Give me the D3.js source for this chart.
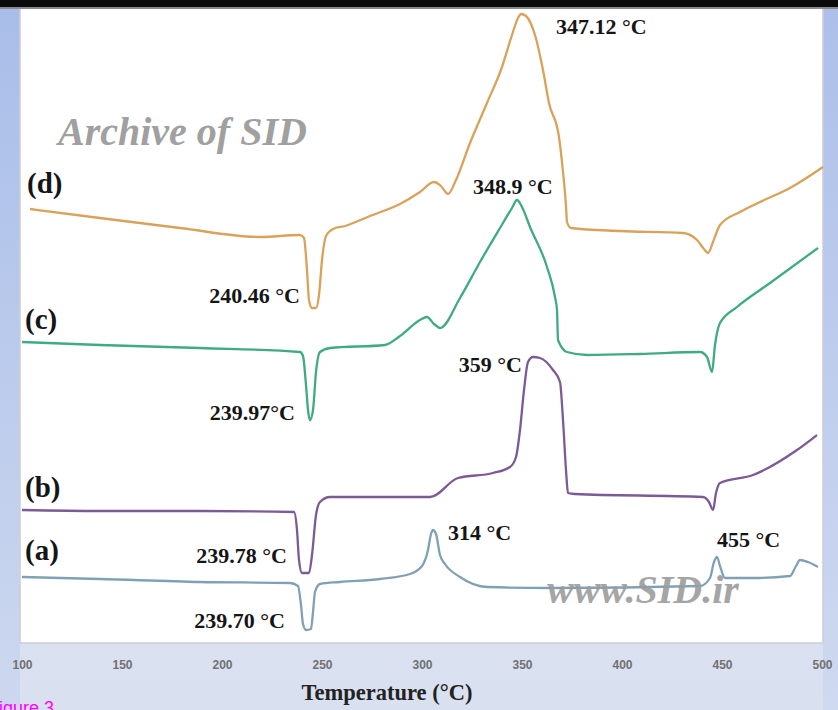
<!DOCTYPE html>
<html>
<head>
<meta charset="utf-8">
<script src="https://cdn.jsdelivr.net/npm/d3@7"></script>
<style>
html,body{margin:0;padding:0;background:#dfe5f2;overflow:hidden;}
svg{display:block;}
</style>
</head>
<body>
<svg id="chart" width="838" height="710"></svg>
<script>
// ---- Data (temperature °C, heat-flow in arbitrary units) ----
const xTicks = [100, 150, 200, 250, 300, 350, 400, 450, 500];
const xLabel = "Temperature (°C)";

const tempD = [104,139,179,219,239,241,242.5,243.5,245,247,248.5,250,252,255.5,261.5,274,289,299,306,309.5,313,317,324,332.5,340,345,348,349.5,352,356.5,360.5,363.5,368.5,370.5,372,372.5,374.5,399,430.5,437.5,441,443,445.5,449,459,469,484,500.5];
const flowD = [434,425,415,406,408,405,373,343,335,335,348,383,407,414,417,427,439,451,461,457,449,463,500,540,576,608,625,629,627,608,573,540,506,471,437,421,415,412,410,403,394,390,401,418,431,441,455,476];

const tempC = [100,139,189,239,240.5,242,243,244,245.5,247,249,254,281.5,289,299,302.5,306,309,319,329,339,345,347.5,350,354,362.5,366.5,367.5,368,372.5,382.5,409,439,442.5,445,446.5,449,457.5,474,498];
const flowC = [301,298,295,291,287,258,233,223,233,271,291,295,298,307,323,326,319,315,345,381,415,435,443,436,416,376,346,333,303,291,288,289,291,286,271,298,320,336,360,395];

const tempB = [100,139,189,236,237.5,238.5,240,243.5,245,247,249,254,279,304,318,335.5,344,347,349,351,353,355.5,359,365.5,369,370.5,372,373,376.5,440.5,443.5,445.5,447,449,465.5,487.5,497.5];
const flowB = [133,132,132,131,113,83,70,70,88,128,141,146,146,146,165,170,176,186,213,253,281,286,285,273,261,223,173,150,149,146,141,133,150,160,168,193,208];

const tempA = [100,139,189,234,238,239.5,240.5,242,244.5,245.5,246.5,249,259,279,294,300,303,304.5,305.5,307,309,311.5,319,332.5,364,439,444,446,447.5,449,451.5,465.5,484,487,489,493,498];
const flowA = [66,64,61,60,57,38,19,13,14,31,51,59,61,64,69,77,93,109,113,109,88,79,66,56,55,57,65,81,86,77,65,65,67,77,83,81,76];

const seriesNames = ["(d)", "(c)", "(b)", "(a)"];
const seriesColors = ["#d9a25a", "#3fab82", "#7c5a95", "#80a1b5"];

// series letter anchors (temperature, flow)
const letterTemp = [102.5, 101.5, 101.5, 101.5];
const letterFlow = [450, 314, 146, 83];

// peak annotations
const annText   = ["347.12 °C", "348.9 °C", "240.46 °C", "239.97°C", "359 °C", "239.78 °C", "239.70 °C", "314 °C", "455 °C"];
const annTemp   = [367, 325.5, 239, 236.5, 350, 232.5, 231.5, 313, 447.5];
const annFlow   = [609, 449, 340, 223, 271, 80, 15, 103, 96];
const annAnchor = ["start", "start", "end", "end", "end", "end", "end", "start", "start"];

// ---- Drawing ----
const svg = d3.select("#chart");
const W = 838, H = 710;
const plot = {left: 20, right: 823, top: 8, bottom: 643};

const defs = svg.append("defs");
const gL = defs.append("linearGradient").attr("id", "leftBand").attr("x1", 0).attr("y1", 0).attr("x2", 0).attr("y2", 1);
gL.append("stop").attr("offset", "0%").attr("stop-color", "#a8bde9");
gL.append("stop").attr("offset", "100%").attr("stop-color", "#cdd8ef");
const gR = defs.append("linearGradient").attr("id", "rightBand").attr("x1", 0).attr("y1", 0).attr("x2", 0).attr("y2", 1);
gR.append("stop").attr("offset", "0%").attr("stop-color", "#adbfe9");
gR.append("stop").attr("offset", "100%").attr("stop-color", "#cfd9f0");
const gB = defs.append("linearGradient").attr("id", "bottomBand").attr("x1", 0).attr("y1", 0).attr("x2", 0).attr("y2", 1);
gB.append("stop").attr("offset", "0%").attr("stop-color", "#e3e8f3");
gB.append("stop").attr("offset", "100%").attr("stop-color", "#d9e0f0");

svg.append("rect").attr("x", 0).attr("y", 0).attr("width", W).attr("height", H).attr("fill", "url(#bottomBand)");
svg.append("rect").attr("x", 0).attr("y", 0).attr("width", plot.left).attr("height", H).attr("fill", "url(#leftBand)");
svg.append("rect").attr("x", plot.right).attr("y", 0).attr("width", W - plot.right).attr("height", H).attr("fill", "url(#rightBand)");
svg.append("rect").attr("x", plot.left).attr("y", plot.top).attr("width", plot.right - plot.left).attr("height", plot.bottom - plot.top)
  .attr("fill", "#ffffff").attr("stroke", "#c9cdd6").attr("stroke-width", 1.5);
svg.append("rect").attr("x", 0).attr("y", 0).attr("width", W).attr("height", 7).attr("fill", "#0a0a0a");
svg.append("rect").attr("x", 0).attr("y", 7).attr("width", W).attr("height", 2).attr("fill", "#8a8a8a");

const x = d3.scaleLinear().domain([100, 500]).range([22, 822]);
const y = d3.scaleLinear().domain([0, 635]).range([643, 8]);

// watermarks
svg.append("text").attr("x", 58).attr("y", 145).text("Archive of SID")
  .attr("font-family", "Liberation Serif, Times New Roman, serif").attr("font-style", "italic").attr("font-weight", "bold")
  .attr("font-size", 40).attr("fill", "#a0a0a0");

const line = d3.line().x(d => x(d[0])).y(d => y(d[1])).curve(d3.curveMonotoneX);
const allT = [tempD, tempC, tempB, tempA];
const allF = [flowD, flowC, flowB, flowA];
allT.forEach((ts, i) => {
  const pts = ts.map((t, j) => [t, allF[i][j]]);
  svg.append("path").datum(pts).attr("d", line).attr("fill", "none")
    .attr("stroke", seriesColors[i]).attr("stroke-width", 2.3).attr("stroke-linejoin", "round");
});

svg.append("text").attr("x", 547).attr("y", 603).text("www.SID.ir")
  .attr("font-family", "Liberation Serif, Times New Roman, serif").attr("font-style", "italic").attr("font-weight", "bold")
  .attr("font-size", 40).attr("fill", "#9c9c9c").attr("opacity", 0.9);

// series letters
seriesNames.forEach((s, i) => {
  svg.append("text").attr("x", x(letterTemp[i])).attr("y", y(letterFlow[i])).text(s)
    .attr("font-family", "Liberation Serif, Times New Roman, serif").attr("font-weight", "bold")
    .attr("font-size", 29).attr("fill", "#151515");
});

// annotations
annText.forEach((s, i) => {
  svg.append("text").attr("x", x(annTemp[i])).attr("y", y(annFlow[i])).text(s)
    .attr("text-anchor", annAnchor[i])
    .attr("font-family", "Liberation Serif, Times New Roman, serif").attr("font-weight", "bold")
    .attr("font-size", 22).attr("fill", "#151515");
});

// x axis
const axis = d3.axisBottom(x).tickValues(xTicks).tickSize(0).tickPadding(17).tickFormat(d3.format("d"));
const gAx = svg.append("g").attr("transform", `translate(0,${plot.bottom})`).call(axis);
gAx.select(".domain").remove();
gAx.selectAll("text").attr("font-family", "Liberation Sans, Arial, sans-serif").attr("font-size", 12)
  .attr("font-weight", "bold").attr("fill", "#707070");

svg.append("text").attr("x", 387).attr("y", 700).attr("text-anchor", "middle").text(xLabel)
  .attr("font-family", "Liberation Serif, Times New Roman, serif").attr("font-weight", "bold")
  .attr("font-size", 22.5).attr("fill", "#222");

svg.append("text").attr("x", -12).attr("y", 714).text("Figure 3")
  .attr("font-family", "Liberation Sans, Arial, sans-serif").attr("font-size", 18).attr("fill", "#ff00ff");
</script>
</body>
</html>
